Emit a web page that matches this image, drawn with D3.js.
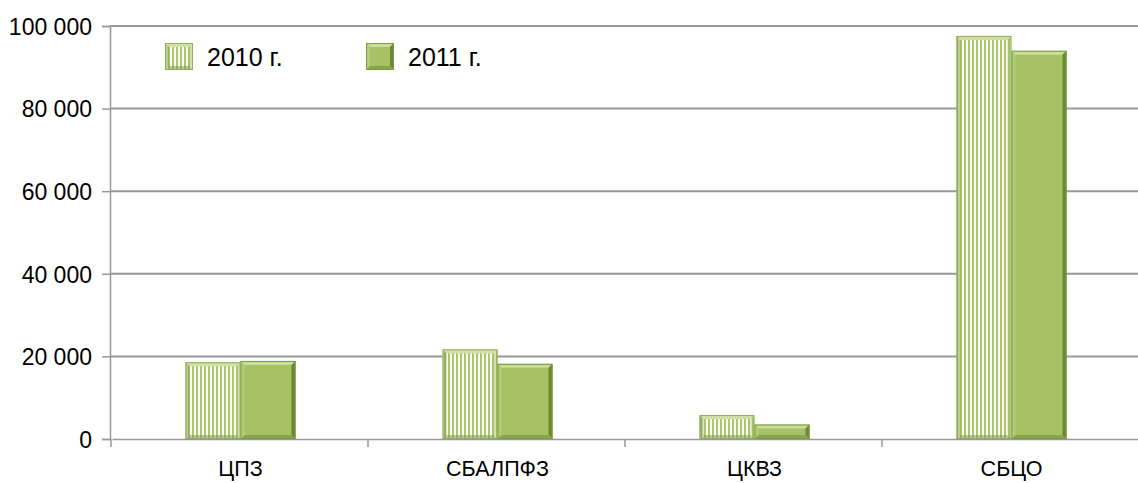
<!DOCTYPE html>
<html lang="ru">
<head>
    <meta charset="UTF-8">
    <title>ЦПЗ, СБАЛПФЗ, ЦКВЗ, СБЦО — 2010–2011</title>
    <script src="https://d3js.org/d3.v7.min.js"></script>
    <style>
        body { margin: 0; background: #fff; }
        svg text { font-family: "Liberation Sans", Arial, sans-serif; fill: #000; }
    </style>
</head>
<body>
<svg id="chart" width="1138" height="483"></svg>
<script>
    // данные
    const categories = ["ЦПЗ", "СБАЛПФЗ", "ЦКВЗ", "СБЦО"];
    const years = ["2010 г.", "2011 г."];
    const values2010 = [18600, 21700, 5800, 97600];
    const values2011 = [18900, 18200, 3500, 94000];
    const yTicks = [0, 20000, 40000, 60000, 80000, 100000];

    const svg = d3.select("#chart");
    const plotLeft = 110, plotRight = 1138, plotTop = 26, plotBottom = 439;

    const x = d3.scaleBand().domain(categories).range([plotLeft + 2, plotRight + 2]).padding(0);
    const y = d3.scaleLinear().domain([0, 100000]).range([plotBottom, plotTop]);
    const barW = 55;

    const fmt = d => d3.format(",")(d).replace(/,/g, " ");

    // полосатая заливка для 2010
    const defs = svg.append("defs");
    const pat = defs.append("pattern")
        .attr("id", "stripes")
        .attr("patternUnits", "userSpaceOnUse")
        .attr("width", 4).attr("height", 4);
    pat.append("rect").attr("width", 4).attr("height", 4).attr("fill", "#fbfdf5");
    pat.append("rect").attr("width", 2).attr("height", 4).attr("fill", "#abc66f");

    // сетка
    svg.append("g")
        .selectAll("line")
        .data(yTicks.filter(d => d > 0))
        .join("line")
        .attr("x1", plotLeft).attr("x2", plotRight)
        .attr("y1", d => y(d)).attr("y2", d => y(d))
        .attr("stroke", "#999")
        .attr("stroke-width", 2);

    // ось Y
    const yAxis = svg.append("g")
        .attr("transform", `translate(${plotLeft},0)`)
        .call(d3.axisLeft(y).tickValues(yTicks).tickFormat(fmt).tickSize(8).tickPadding(10));
    yAxis.select(".domain").attr("stroke", "#999").attr("stroke-width", 1.5);
    yAxis.selectAll(".tick line").attr("stroke", "#999").attr("stroke-width", 1.5);
    yAxis.selectAll(".tick text")
        .attr("font-size", 23)
        .attr("font-family", "Liberation Sans, Arial, sans-serif")
        .attr("dy", "0.36em");

    // ось X
    const xAxis = svg.append("g")
        .attr("transform", `translate(0,${plotBottom})`)
        .call(d3.axisBottom(x).tickSize(0).tickPadding(22));
    xAxis.select(".domain").attr("stroke", "#999").attr("stroke-width", 1.5);
    xAxis.selectAll(".tick text")
        .attr("font-size", 21.5)
        .attr("font-family", "Liberation Sans, Arial, sans-serif");
    svg.append("g")
        .selectAll("line")
        .data(categories)
        .join("line")
        .attr("x1", d => x(d) - 1).attr("x2", d => x(d) - 1)
        .attr("y1", plotBottom).attr("y2", plotBottom + 8)
        .attr("stroke", "#999").attr("stroke-width", 1.5);

    // рамка со скосом
    function bevel(g, bx, by, bw, bh, light, mid, dark, darker) {
        const b = Math.min(4, bh / 2);
        const poly = (pts, c) => g.append("polygon")
            .attr("points", pts.map(p => p.join(",")).join(" "))
            .attr("fill", c);
        poly([[bx, by], [bx + bw, by], [bx + bw - b, by + b], [bx + b, by + b]], light);
        poly([[bx, by], [bx + b, by + b], [bx + b, by + bh - b], [bx, by + bh]], mid);
        poly([[bx + bw, by], [bx + bw, by + bh], [bx + bw - b, by + bh - b], [bx + bw - b, by + b]], dark);
        poly([[bx, by + bh], [bx + bw, by + bh], [bx + bw - b, by + bh - b], [bx + b, by + bh - b]], darker);
    }

    const striped = ["#cfe0a4", "rgba(125,155,65,0.5)", "rgba(160,190,100,0.45)", "rgba(120,150,70,0.5)"];
    const solid = ["#cadd9c", "#b3cc7b", "#6c8836", "#87a54c"];

    const bars = svg.append("g");
    categories.forEach((c, i) => {
        const cx = x(c) + x.bandwidth() / 2;
        // 2010
        const y0 = y(values2010[i]);
        bars.append("rect")
            .attr("x", cx - barW).attr("y", y0)
            .attr("width", barW).attr("height", plotBottom - y0)
            .attr("fill", "url(#stripes)");
        bevel(bars, cx - barW, y0, barW, plotBottom - y0, ...striped);
        bars.append("rect")
            .attr("x", cx - barW + 0.5).attr("y", y0 + 0.5)
            .attr("width", barW - 1).attr("height", plotBottom - y0 - 1)
            .attr("fill", "none").attr("stroke", "#93ae58").attr("stroke-width", 1);
        // 2011
        const y1 = y(values2011[i]);
        bars.append("rect")
            .attr("x", cx).attr("y", y1)
            .attr("width", barW).attr("height", plotBottom - y1)
            .attr("fill", "#a6c265");
        bevel(bars, cx, y1, barW, plotBottom - y1, ...solid);
        bars.append("rect")
            .attr("x", cx + 0.5).attr("y", y1 + 0.5)
            .attr("width", barW - 1).attr("height", plotBottom - y1 - 1)
            .attr("fill", "none").attr("stroke", "#7d9944").attr("stroke-width", 1);
    });

    // легенда
    const legend = svg.append("g");
    const legX = [165, 366];
    years.forEach((t, i) => {
        const lx = legX[i], ly = 43, sw = 28, sh = 27;
        legend.append("rect")
            .attr("x", lx).attr("y", ly).attr("width", sw).attr("height", sh)
            .attr("fill", i === 0 ? "url(#stripes)" : "#a6c265");
        bevel(legend, lx, ly, sw, sh, ...(i === 0 ? striped : solid));
        legend.append("rect")
            .attr("x", lx + 0.5).attr("y", ly + 0.5).attr("width", sw - 1).attr("height", sh - 1)
            .attr("fill", "none").attr("stroke", i === 0 ? "#93ae58" : "#7d9944");
        legend.append("text")
            .attr("x", lx + sw + 14).attr("y", ly + sh / 2)
            .attr("dy", "0.36em")
            .attr("font-size", 25)
            .text(t);
    });
</script>
</body>
</html>
